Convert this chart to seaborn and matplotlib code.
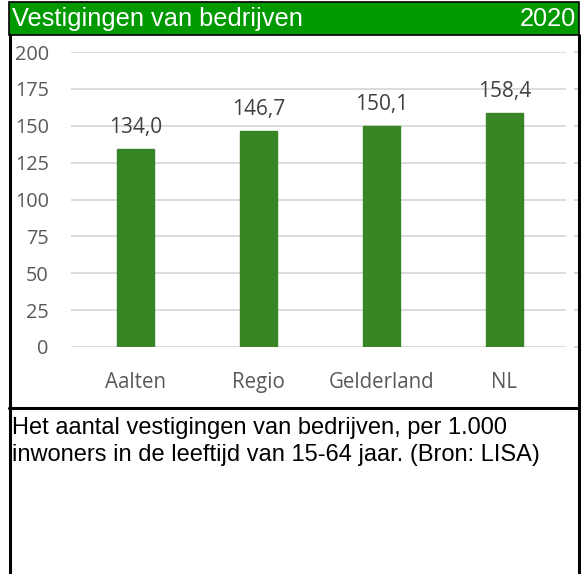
import matplotlib
matplotlib.use("Agg")
import matplotlib.pyplot as plt
import seaborn as sns
import pandas as pd
from matplotlib.patches import Rectangle
from matplotlib.lines import Line2D

categories = ["Aalten", "Regio", "Gelderland", "NL"]
values = [134.0, 146.7, 150.1, 158.4]
labels = ["134,0", "146,7", "150,1", "158,4"]
yticks = [0, 25, 50, 75, 100, 125, 150, 175, 200]
title = "Vestigingen van bedrijven"
year = "2020"
note = "Het aantal vestigingen van bedrijven, per 1.000\ninwoners in de leeftijd van 15-64 jaar. (Bron: LISA)"

sns.set_style("white")
W, H = 581, 574
fig = plt.figure(figsize=(W / 100, H / 100), dpi=100)

def fx(x): return x / W
def fy(y): return 1 - y / H

# header
fig.patches.append(Rectangle((fx(9), fy(35)), fx(579) - fx(9), fy(2) - fy(35),
                             transform=fig.transFigure, facecolor="#009900",
                             edgecolor="black", linewidth=1.2, zorder=0))
fig.text(fx(12), fy(19), title, color="white", fontsize=18.3,
         family="Liberation Sans", va="center", ha="left")
fig.text(fx(576), fy(19), year, color="white", fontsize=18.3,
         family="Liberation Sans", va="center", ha="right")

# borders
for (x0, y0, x1, y1, lw) in [(9.5, 35, 9.5, 574, 2.2), (578.5, 35, 578.5, 574, 2.2),
                             (9, 408, 579, 408, 2.2)]:
    fig.add_artist(Line2D([fx(x0), fx(x1)], [fy(y0), fy(y1)], color="black",
                          linewidth=lw, transform=fig.transFigure))

# chart
ax = fig.add_axes([fx(71), fy(347), fx(566) - fx(71), fy(52) - fy(347)])
df = pd.DataFrame({"cat": categories, "val": values})
sns.barplot(data=df, x="cat", y="val", ax=ax, color="#378524", width=0.30,
            saturation=1, edgecolor="#378524", zorder=3)
ax.set_ylim(0, 200)
ax.set_xlim(-0.524, 3.5)
ax.set_yticks(yticks)
ax.set_yticklabels([str(t) for t in yticks])
for s in ax.spines.values():
    s.set_visible(False)
ax.spines["right"].set_position(("outward", 6))
ax.grid(axis="y", color="#d9d9d9", linewidth=1.3, zorder=0)
ax.set_axisbelow(True)
ax.set_xlabel("")
ax.set_ylabel("")
ax.tick_params(axis="y", left=False, right=True, direction="out", length=4,
               width=1.2, color="#d0d0d0", pad=12, labelsize=14.3,
               labelcolor="#595959", labelright=False, labelleft=True)
ax.tick_params(axis="x", length=0, pad=18, labelsize=14.8, labelcolor="#595959")
for lab in ax.get_yticklabels() + ax.get_xticklabels():
    lab.set_family("Open Sans")
for i, (v, l) in enumerate(zip(values, labels)):
    ax.annotate(l, (i, v), xytext=(0, 11.5), textcoords="offset points",
                ha="center", va="baseline", fontsize=15, color="#404040",
                family="Open Sans")

fig.text(fx(12), fy(417), note, fontsize=17, family="Liberation Sans",
         va="top", ha="left", color="black", linespacing=1.32)

fig.savefig("out.png", dpi=100)
